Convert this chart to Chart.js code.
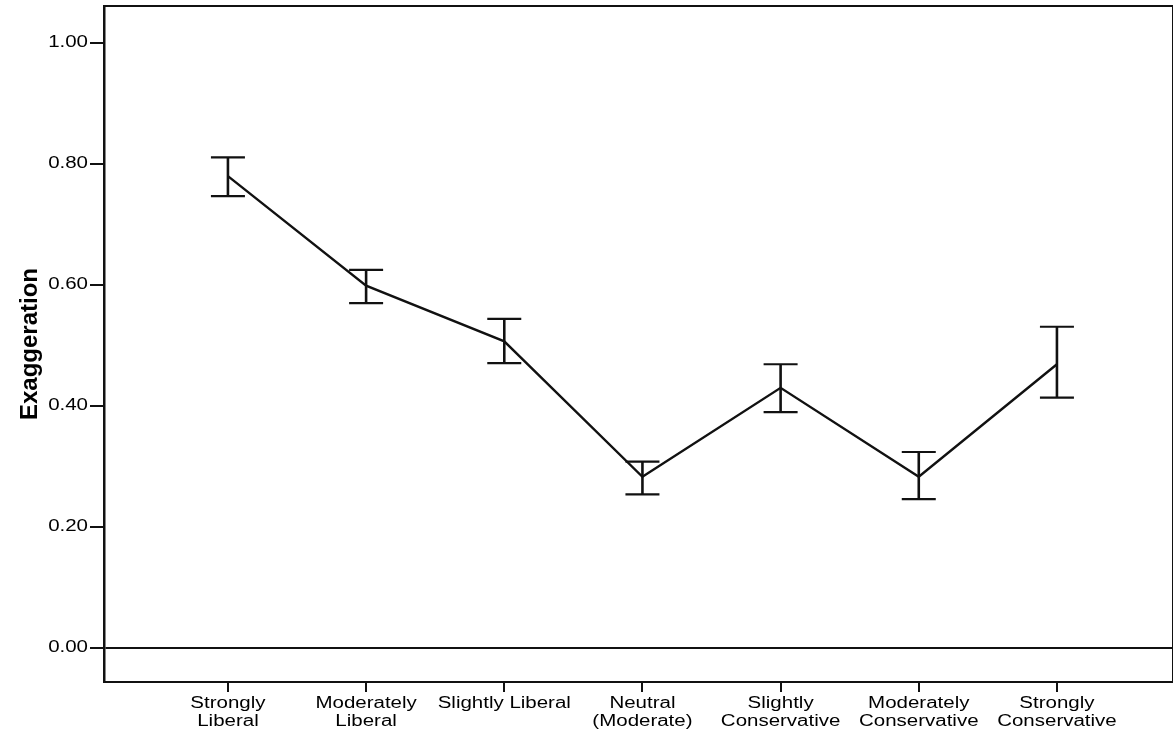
<!DOCTYPE html>
<html>
<head>
<meta charset="utf-8">
<script src="https://cdn.jsdelivr.net/npm/chart.js@4.4.1/dist/chart.umd.min.js"></script>
<style>
  html, body { margin: 0; padding: 0; background: #fff; }
  #wrap { width: 1173px; height: 734px; }
</style>
</head>
<body>
<div id="wrap"><canvas id="c" width="1173" height="734" style="width:1173px;height:734px"></canvas></div>
<script>
const categories = [
  ["Strongly", "Liberal"],
  ["Moderately", "Liberal"],
  ["Slightly Liberal"],
  ["Neutral", "(Moderate)"],
  ["Slightly", "Conservative"],
  ["Moderately", "Conservative"],
  ["Strongly", "Conservative"]
];
const means = [0.780, 0.599, 0.507, 0.283, 0.430, 0.283, 0.469];
const upperCI = [0.811, 0.625, 0.544, 0.308, 0.469, 0.324, 0.531];
const lowerCI = [0.747, 0.570, 0.471, 0.254, 0.390, 0.246, 0.414];
const yTicks = [0.00, 0.20, 0.40, 0.60, 0.80, 1.00];
const yTitle = "Exaggeration";

const FONT = '"Liberation Sans", Arial, sans-serif';
const INK = '#111111';
const TEXT_STRETCH = 1.28; // the reference draws its tick labels horizontally widened

const canvas = document.getElementById('c');
const ctx2d = canvas.getContext('2d');
const nativeFillText = ctx2d.fillText;
ctx2d.fillText = function (text, x, y, maxWidth) {
  if (/bold/.test(this.font)) {
    return nativeFillText.call(this, text, x, y);
  }
  this.save();
  this.translate(x, y);
  this.scale(TEXT_STRETCH, 1);
  nativeFillText.call(this, text, 0, 0);
  this.restore();
};

const errorBars = {
  id: 'errorBars',
  afterDatasetsDraw(chart) {
    const {ctx, scales: {x, y}} = chart;
    ctx.save();
    ctx.strokeStyle = INK;
    ctx.lineCap = 'butt';
    means.forEach((m, i) => {
      const px = x.getPixelForValue(i);
      const pt = y.getPixelForValue(upperCI[i]);
      const pb = y.getPixelForValue(lowerCI[i]);
      const half = 17;
      ctx.lineWidth = 2.6;
      ctx.beginPath();
      ctx.moveTo(px, pt); ctx.lineTo(px, pb);
      ctx.stroke();
      ctx.lineWidth = 2.2;
      ctx.beginPath();
      ctx.moveTo(px - half, pt); ctx.lineTo(px + half, pt);
      ctx.moveTo(px - half, pb); ctx.lineTo(px + half, pb);
      ctx.stroke();
    });
    ctx.restore();
  }
};

const frame = {
  id: 'frame',
  afterDraw(chart) {
    const {ctx, chartArea: a} = chart;
    ctx.save();
    ctx.strokeStyle = INK;
    ctx.lineWidth = 2;
    ctx.beginPath();
    ctx.moveTo(a.left, a.top); ctx.lineTo(a.right, a.top);
    ctx.moveTo(a.right, a.top); ctx.lineTo(a.right, a.bottom);
    ctx.stroke();
    ctx.restore();
  }
};

new Chart(canvas, {
  type: 'line',
  data: {
    datasets: [{
      data: means.map((m, i) => ({x: i, y: m})),
      borderColor: INK,
      borderWidth: 2.4,
      pointRadius: 0,
      tension: 0,
      fill: false
    }]
  },
  options: {
    responsive: false,
    animation: false,
    devicePixelRatio: 1,
    layout: { padding: { top: 6, left: 0, right: 0, bottom: 0 } },
    plugins: { legend: { display: false }, tooltip: { enabled: false } },
    scales: {
      x: {
        type: 'linear',
        min: -0.897,
        max: 6.84,
        afterBuildTicks: s => { s.ticks = categories.map((_, i) => ({value: i})); },
        afterFit: s => { s.height = 52; s.paddingLeft = 0; s.paddingRight = 0; },
        ticks: {
          autoSkip: false,
          maxRotation: 0,
          minRotation: 0,
          padding: 2,
          color: '#000',
          font: { family: FONT, size: 16, lineHeight: 1.15 },
          callback: v => categories[v]
        },
        grid: { drawOnChartArea: false, drawTicks: true, tickLength: 10, color: INK, lineWidth: 2 },
        border: { display: true, color: INK, width: 2 }
      },
      y: {
        type: 'linear',
        min: -0.0562,
        max: 1.0612,
        afterBuildTicks: s => { s.ticks = yTicks.map(v => ({value: v})); },
        afterFit: s => { s.width = 104; s.paddingTop = 0; s.paddingBottom = 0; },
        ticks: {
          padding: 2,
          color: '#000',
          font: { family: FONT, size: 16 },
          callback: v => Number(v).toFixed(2)
        },
        grid: {
          drawOnChartArea: true,
          drawTicks: true,
          tickLength: 14,
          lineWidth: 2,
          color: c => (c.tick && c.tick.value === 0) ? INK : 'rgba(0,0,0,0)',
          tickColor: INK
        },
        border: { display: true, color: INK, width: 2.5 },
        title: {
          display: true,
          text: yTitle,
          color: '#000',
          font: { family: FONT, size: 24, weight: 'bold' },
          padding: { top: 16, bottom: 0 }
        }
      }
    }
  },
  plugins: [errorBars, frame]
});
</script>
</body>
</html>
